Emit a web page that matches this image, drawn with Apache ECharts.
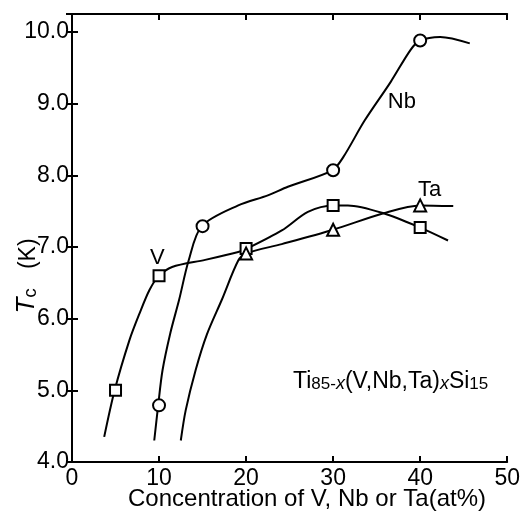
<!DOCTYPE html>
<html><head><meta charset="utf-8">
<script src="https://cdn.jsdelivr.net/npm/echarts@6/dist/echarts.min.js"></script>
<style>html,body{margin:0;padding:0;background:#fff}#c{width:523px;height:512px}</style>
</head><body><div id="c"></div>
<script>
// ---- data ----
const xTicks = [0, 10, 20, 30, 40, 50];
const yTicks = [4, 5, 6, 7, 8, 9, 10];
// measured points
const vPoints  = [[5, 5.0], [10, 6.6], [20, 6.98], [30, 7.58], [40, 7.27]];
const nbPoints = [[10, 4.79], [15, 7.29], [30, 8.07], [40, 9.88]];
const taPoints = [[20, 6.91], [30, 7.24], [40, 7.58]];
// hand-drawn guide curves
const vCurve  = [[3.7, 4.35], [4.9, 5.0], [6.6, 5.70], [7.75, 6.07], [8.9, 6.40], [9.95, 6.59], [11.5, 6.72], [15.3, 6.82], [19.1, 6.93], [20, 6.97], [24.1, 7.23], [27.1, 7.49], [30, 7.58], [31.7, 7.58], [35.8, 7.47], [40, 7.27], [43.2, 7.09]];
const nbCurve = [[9.45, 4.30], [9.9, 4.79], [10.4, 5.28], [11.3, 5.80], [12.3, 6.26], [13.4, 6.81], [14.9, 7.29], [19.1, 7.58], [22.5, 7.72], [24.8, 7.84], [29.9, 8.07], [31.2, 8.26], [33.6, 8.76], [36.6, 9.30], [38.9, 9.75], [40, 9.88], [42.3, 9.93], [45.7, 9.84]];
const taCurve = [[12.5, 4.30], [13.06, 4.72], [14.2, 5.28], [15.5, 5.78], [17.2, 6.26], [19.1, 6.81], [20, 6.91], [24.1, 7.04], [30, 7.24], [35.8, 7.47], [40, 7.58], [43.8, 7.57]];
const seriesNames = ['V', 'Nb', 'Ta'];
const seriesLabelPos = [[9.8, 6.84], [37.9, 9.02], [41.1, 7.79]];

const FONT = 'Liberation Sans, Arial, sans-serif';
const chart = echarts.init(document.getElementById('c'), null, {renderer: 'canvas'});

const axisLine = {show: true, lineStyle: {color: '#000', width: 2}};
const tick = {show: true, inside: true, length: 6, lineStyle: {color: '#000', width: 2}};

function curveSeries(data) {
  return {type: 'line', data: data, smooth: 0.3, showSymbol: false, symbol: 'none',
    lineStyle: {color: '#000', width: 2}, silent: true, z: 2, animation: false};
}
function pointSeries(data, symbol, size) {
  return {type: 'scatter', data: data, symbol: symbol, symbolSize: size,
    itemStyle: {color: '#fff', borderColor: '#000', borderWidth: 2, opacity: 1}, z: 5, animation: false};
}

chart.setOption({
  animation: false,
  backgroundColor: '#fff',
  grid: {left: 72, top: 14, right: 12, bottom: 50, containLabel: false},
  xAxis: [
    {type: 'value', min: xTicks[0], max: xTicks[xTicks.length - 1], interval: 10, position: 'bottom',
      axisLine: axisLine, axisTick: tick, splitLine: {show: false},
      axisLabel: {color: '#000', fontSize: 23, fontFamily: FONT, margin: 5}},
    {type: 'value', min: xTicks[0], max: xTicks[xTicks.length - 1], interval: 10, position: 'top',
      axisLine: axisLine, axisTick: tick, splitLine: {show: false}, axisLabel: {show: false}}
  ],
  yAxis: [
    {type: 'value', min: yTicks[0], max: 10.25, interval: 1, position: 'left',
      axisLine: axisLine, axisTick: tick, splitLine: {show: false},
      axisLabel: {color: '#000', fontSize: 23, fontFamily: FONT, margin: 3,
        formatter: v => yTicks.includes(v) ? v.toFixed(1) : ''}},
    {type: 'value', min: yTicks[0], max: 10.25, interval: 1, position: 'right',
      axisLine: axisLine, axisTick: tick, splitLine: {show: false}, axisLabel: {show: false}}
  ],
  series: [
    curveSeries(vCurve), curveSeries(nbCurve), curveSeries(taCurve),
    pointSeries(vPoints, 'rect', 11),
    pointSeries(nbPoints, 'circle', 12),
    pointSeries(taPoints, 'triangle', 12)
  ]
});

// series name labels placed through the chart's own coordinate system
const labelGraphics = seriesNames.map((n, i) => {
  const p = chart.convertToPixel({xAxisIndex: 0, yAxisIndex: 0}, seriesLabelPos[i]);
  return {type: 'text', x: p[0], y: p[1], z: 10,
    style: {text: n, font: '22px ' + FONT, fill: '#000', textAlign: 'center', textVerticalAlign: 'middle'}};
});

chart.setOption({
  graphic: labelGraphics.concat([
    {type: 'text', x: 307, y: 499, z: 10,
      style: {text: 'Concentration of V, Nb or Ta(at%)', font: '24px ' + FONT, fill: '#000',
        textAlign: 'center', textVerticalAlign: 'middle'}},
    {type: 'text', x: 25, y: 276, rotation: Math.PI / 2, z: 10,
      style: {text: '{i|T}{s|c}{m|   (K)}', fill: '#000', textAlign: 'center', textVerticalAlign: 'middle',
        rich: {
          i: {fontSize: 26, fontStyle: 'italic', fontFamily: FONT, lineHeight: 30, verticalAlign: 'bottom'},
          s: {fontSize: 19, fontFamily: FONT, lineHeight: 18, verticalAlign: 'bottom'},
          m: {fontSize: 23, fontFamily: FONT, lineHeight: 30, verticalAlign: 'bottom'}
        }}},
    {type: 'text', x: 293, y: 378, z: 10,
      style: {text: '{m|Ti}{s|85-}{si|x}{m|(V,Nb,Ta)}{si|x}{m|Si}{s|15}', fill: '#000',
        textAlign: 'left', textVerticalAlign: 'middle',
        rich: {
          m: {fontSize: 23, fontFamily: FONT, lineHeight: 30, verticalAlign: 'bottom'},
          s: {fontSize: 17, fontFamily: FONT, lineHeight: 16, verticalAlign: 'bottom'},
          si: {fontSize: 18, fontStyle: 'italic', fontFamily: FONT, lineHeight: 16, verticalAlign: 'bottom'}
        }}}
  ])
});
</script></body></html>
